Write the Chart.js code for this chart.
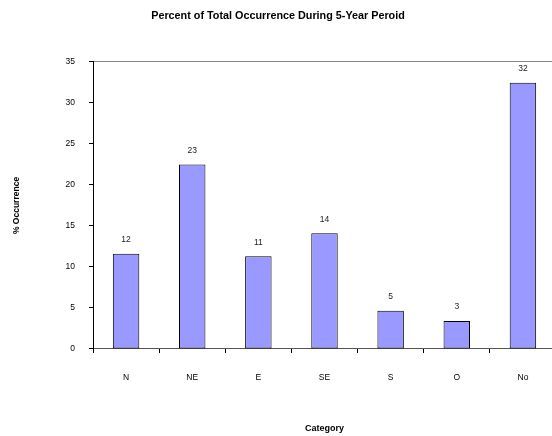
<!DOCTYPE html>
<html>
<head>
<meta charset="utf-8">
<script src="https://cdn.jsdelivr.net/npm/chart.js@4.4.1/dist/chart.umd.min.js"></script>
<style>
  html, body { margin: 0; padding: 0; background: #ffffff; overflow: hidden; }
  #wrap { width: 552px; height: 436px; overflow: hidden; }
</style>
</head>
<body>
<div id="wrap"><canvas id="occChart" width="560" height="436"></canvas></div>
<script>
const categories = ['N', 'NE', 'E', 'SE', 'S', 'O', 'No'];
const occurrence = [11.6, 22.5, 11.3, 14.1, 4.65, 3.4, 32.45];
const labelValues = [12, 23, 11, 14, 5, 3, 32];
const yTicks = [0, 5, 10, 15, 20, 25, 30, 35];

const fontFamily = 'Arial, "Liberation Sans", sans-serif';

// writes the rounded value above each bar
const barLabels = {
    id: 'barLabels',
    afterDatasetsDraw(chart) {
        const ctx = chart.ctx;
        const meta = chart.getDatasetMeta(0);
        ctx.save();
        ctx.font = '8.5px ' + fontFamily;
        ctx.fillStyle = '#222222';
        ctx.textAlign = 'center';
        ctx.textBaseline = 'middle';
        meta.data.forEach((bar, i) => {
            ctx.fillText(String(labelValues[i]), bar.x, bar.y - 14);
        });
        ctx.restore();
    }
};

const ctx = document.getElementById('occChart').getContext('2d');
const occChart = new Chart(ctx, {
    type: 'bar',
    data: {
        labels: categories,
        datasets: [{
            label: '% Occurrence',
            data: occurrence,
            backgroundColor: '#9999ff',
            borderColor: '#000000',
            borderWidth: 1,
            borderSkipped: false,
            barPercentage: 0.4,
            categoryPercentage: 1.0
        }]
    },
    options: {
        responsive: false,
        animation: false,
        layout: { padding: { left: 0, right: 4, top: 0, bottom: 0 } },
        plugins: {
            legend: { display: false },
            tooltip: { enabled: false },
            title: {
                display: true,
                text: 'Percent of Total Occurrence During 5-Year Peroid',
                color: '#000000',
                font: { family: fontFamily, size: 10.8, weight: 'bold' },
                padding: { top: 10, bottom: 39 }
            }
        },
        scales: {
            x: {
                afterFit(scale) { scale.height = 87; },
                grid: {
                    display: true,
                    drawOnChartArea: false,
                    tickLength: 4,
                    tickColor: '#000000',
                    offset: true
                },
                border: { display: true, color: '#555555', width: 1 },
                ticks: {
                    color: '#000000',
                    font: { family: fontFamily, size: 8.5 },
                    padding: 20,
                    maxRotation: 0
                },
                title: {
                    display: true,
                    text: 'Category',
                    color: '#000000',
                    font: { family: fontFamily, size: 9, weight: 'bold' },
                    padding: { top: 0, bottom: 2 }
                }
            },
            y: {
                min: 0,
                max: 35,
                afterFit(scale) { scale.width = 93; },
                afterBuildTicks(scale) { scale.ticks = yTicks.map(v => ({ value: v })); },
                grid: {
                    drawOnChartArea: true,
                    color: c => (c.tick && c.tick.value === 35 ? '#888888' : 'rgba(0,0,0,0)'),
                    tickLength: 4,
                    tickColor: '#000000'
                },
                border: { display: true, color: '#000000', width: 1 },
                ticks: {
                    color: '#000000',
                    font: { family: fontFamily, size: 8.5 },
                    padding: 14
                },
                title: {
                    display: true,
                    text: '% Occurrence',
                    color: '#000000',
                    font: { family: fontFamily, size: 8.5, weight: 'bold' },
                    padding: { top: 12, bottom: 0 }
                }
            }
        }
    },
    plugins: [barLabels]
});
</script>
</body>
</html>
